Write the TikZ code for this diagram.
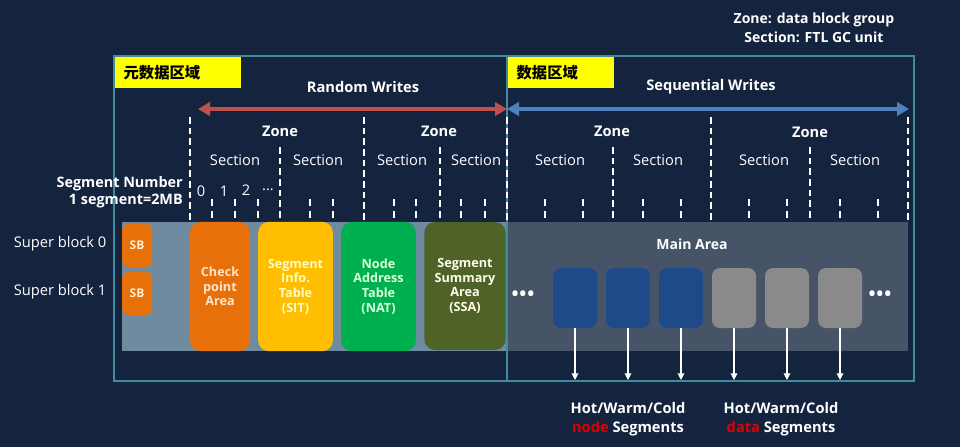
\documentclass[tikz,border=0pt]{standalone}
\usepackage{fontspec}
\setmainfont{Open Sans}
\newfontfamily\cjk{Noto Sans CJK SC}
\usetikzlibrary{arrows.meta}
\definecolor{bg}{HTML}{14243F}
\definecolor{framec}{HTML}{3F8C9E}
\definecolor{stripc}{HTML}{6F8BA0}
\definecolor{mainc}{HTML}{475467}
\definecolor{orangec}{HTML}{E8700A}
\definecolor{sitc}{HTML}{FFBF00}
\definecolor{natc}{HTML}{00B050}
\definecolor{ssac}{HTML}{4F6228}
\definecolor{bluebox}{HTML}{1F4A8A}
\definecolor{graybox}{HTML}{8A8A8A}
\definecolor{redarrow}{HTML}{C0504D}
\definecolor{bluearrow}{HTML}{4F81BD}
\definecolor{yellowlab}{HTML}{FFFF00}
\definecolor{hotred}{HTML}{E00000}
\tikzset{
  txt/.style={text=white, inner sep=0pt, align=center},
  btxt/.style={txt, font=\bfseries\fontsize{11}{13}\selectfont},
  rtxt/.style={txt, font=\fontsize{11}{13}\selectfont},
  dln/.style={draw=white, line width=1.3pt, dash pattern=on 5pt off 3pt},
  seg/.style={draw=white, line width=1.3pt, dash pattern=on 5pt off 4pt},
  area/.style={rounded corners=8pt, inner sep=0pt, align=center, font=\bfseries\fontsize{9.5}{11}\selectfont},
  sbbox/.style={fill=orangec, rounded corners=4pt, minimum width=22.5pt, minimum height=32pt, inner sep=0pt, text=orange!15, font=\bfseries\fontsize{9}{10}\selectfont},
  segbox/.style={rounded corners=6pt, minimum width=33pt, minimum height=45pt, inner sep=0pt},
  ylab/.style={fill=yellowlab, anchor=north west, minimum height=23pt, inner sep=0pt, text=black, font=\cjk\bfseries\fontsize{11.5}{13}\selectfont, align=left},
  wr/.style={line width=3pt, {Triangle[length=9pt,width=10pt]}-{Triangle[length=9pt,width=10pt]}},
  down/.style={draw=white, line width=0.8pt, -{Triangle[length=5pt,width=5pt]}},
  dots/.style={txt, font=\bfseries\fontsize{14}{14}\selectfont}
}
\begin{document}
\begin{tikzpicture}[x=0.75pt,y=-0.75pt]
\fill[bg] (0,0) rectangle (960,447);
\useasboundingbox (0,0) rectangle (960,447);

% strips
\fill[stripc] (122,222) rectangle (507,351);
\fill[mainc] (507,222) rectangle (908,351);

% frames
\draw[framec, line width=1.8pt] (114,56) rectangle (507,381);
\draw[framec, line width=1.8pt] (507,56) rectangle (914,381);

% yellow labels
\node[ylab, minimum width=94.5pt, text width=90pt] (meta) at (115,57) {\hspace*{4pt}元数据区域};
\node[ylab, minimum width=79.5pt, text width=75pt] (data) at (508,57) {\hspace*{4pt}数据区域};

% top right
\node[btxt, font=\bfseries\fontsize{10.5}{14}\selectfont] (legend) at (814,28) {Zone: data block group\\Section: FTL GC unit};

% writes
\node[btxt] (rw) at (363,87) {Random Writes};
\node[btxt] (sw) at (711,87) {Sequential Writes};
\coordinate (rwl) at (198,109);
\coordinate (rwr) at (507,109);
\coordinate (swl) at (507,109);
\coordinate (swr) at (909,109);
\draw[wr, redarrow] (rwl) -- (rwr);
\draw[wr, bluearrow] (swl) -- (swr);

% zone dashed lines
\foreach \x in {190,364,507,711,908} \draw[dln] (\x,117) -- (\x,220);
\foreach \x in {280,440,613,810} \draw[dln] (\x,147) -- (\x,220);
% segment ticks
\foreach \x in {212,235,258,310,333,394,416,461,485,545,583,643,681,749,787,840,878}
  \draw[seg] (\x,199) -- (\x,220);

% zone / section labels
\node[btxt] (z1) at (280,131) {Zone};
\node[btxt] (z2) at (439,131) {Zone};
\node[btxt] (z3) at (612,131) {Zone};
\node[btxt] (z4) at (810,132) {Zone};
\foreach \x/\n in {235/s1,318/s2,402/s3,476/s4,560/s5,658/s6,764/s7,855/s8}
  \node[rtxt] (\n) at (\x,160) {Section};
\node[rtxt] (n0) at (201,191) {0};
\node[rtxt] (n1) at (224,191) {1};
\node[rtxt] (n2) at (246,190) {2};
\node[rtxt] (n3) at (268,190) {...};

\node[btxt, anchor=east, align=right, font=\bfseries\fontsize{10.8}{13}\selectfont] (segnum) at (183,192) {Segment Number\\1 segment=2MB};
\node[rtxt, font=\fontsize{11}{13}\selectfont] (sb0l) at (60,244) {Super block 0};
\node[rtxt, font=\fontsize{11}{13}\selectfont] (sb1l) at (60,292) {Super block 1};

% SB boxes
\node[sbbox] (sb0) at (137,245.5) {SB};
\node[sbbox] (sb1) at (137,293.5) {SB};

% metadata areas
\node[area, fill=orangec, minimum width=45pt, minimum height=97pt, text=orange!20] (cp) at (220,286.5) {Check\\point\\Area};
\node[area, fill=sitc, minimum width=56pt, minimum height=97pt, text=yellow!25] (sit) at (295.5,286.5) {Segment\\Info.\\Table\\(SIT)};
\node[area, fill=natc, minimum width=56pt, minimum height=97pt, text=green!15] (nat) at (378.5,286.5) {Node\\Address\\Table\\(NAT)};
\node[area, fill=ssac, minimum width=61pt, minimum height=96pt, text=white!92!yellow] (ssa) at (465,286) {Segment\\Summary\\Area\\(SSA)};

% main area
\node[btxt, font=\bfseries\fontsize{10.5}{13}\selectfont] (mainlab) at (692,244) {Main Area};
\node[dots] (dl) at (523,296) {\textbullet\kern0.6pt\textbullet\kern0.6pt\textbullet};
\node[dots] (dr) at (880,296) {\textbullet\kern0.6pt\textbullet\kern0.6pt\textbullet};

\foreach \x/\n in {575/b1,628/b2,681/b3} \node[segbox, fill=bluebox] (\n) at (\x,298) {};
\foreach \x/\n in {734/g1,787/g2,840/g3} \node[segbox, fill=graybox] (\n) at (\x,298) {};
\foreach \n/\x in {b1/575,b2/628,b3/681,g1/734,g2/787,g3/840} {
  \coordinate (e\n) at (\x,380);
  \draw[down] (\n.south) -- (e\n);
}

\node[btxt, font=\bfseries\fontsize{11}{14}\selectfont] (hn) at (628,419) {Hot/Warm/Cold\\{\color{hotred}node} Segments};
\node[btxt, font=\bfseries\fontsize{11}{14}\selectfont] (hd) at (781,419) {Hot/Warm/Cold\\{\color{hotred}data} Segments};
\end{tikzpicture}
\end{document}
